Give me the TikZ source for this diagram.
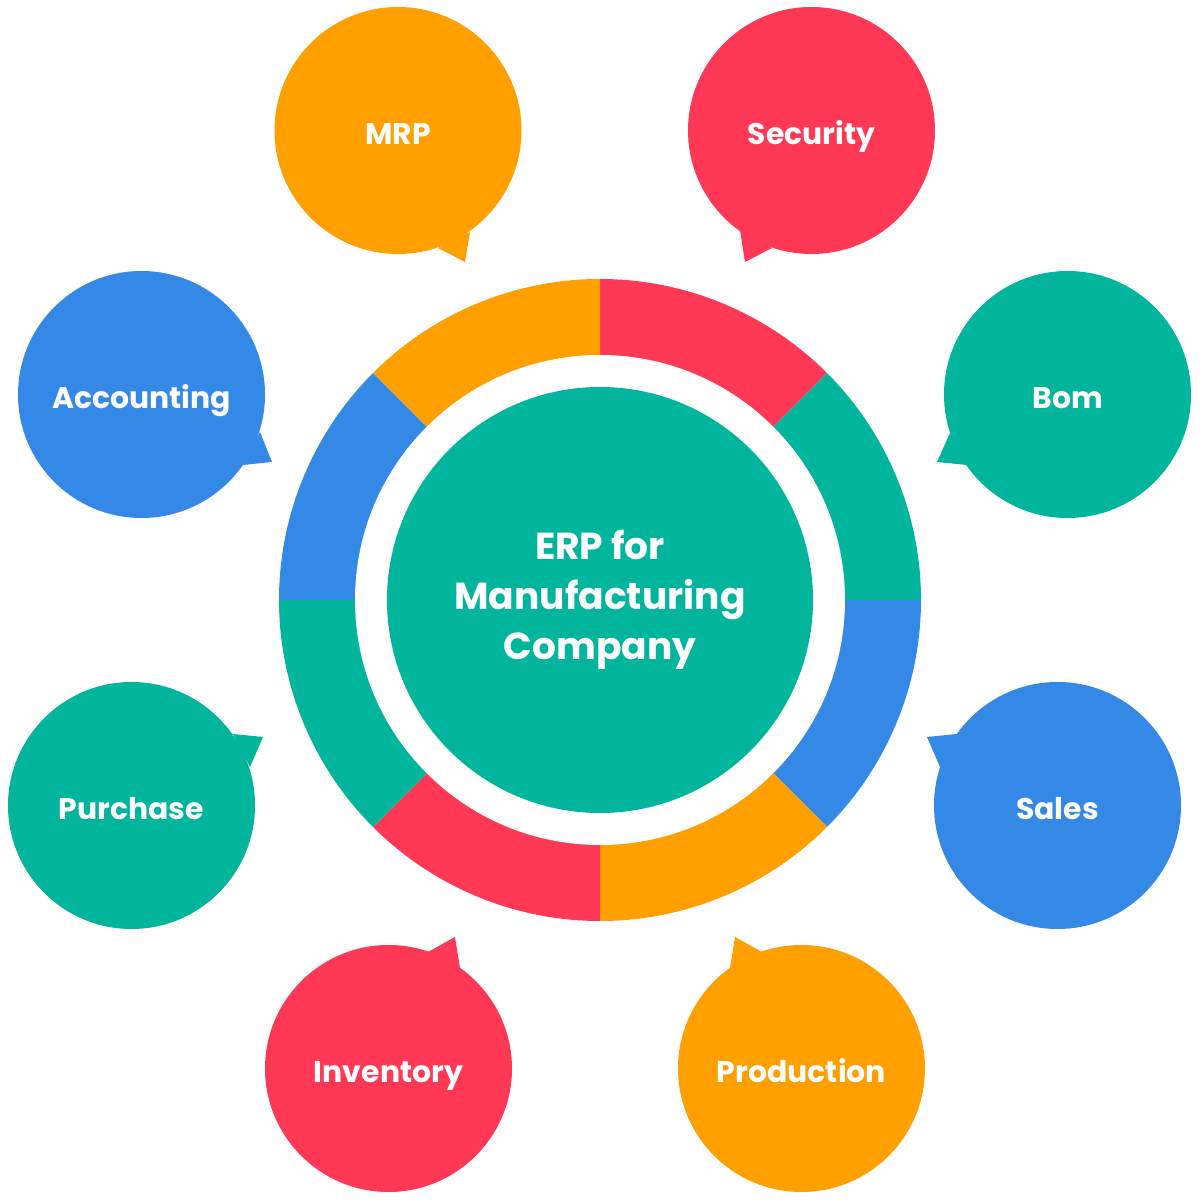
\documentclass[tikz,border=0pt]{standalone}
\usepackage{fontspec}
\setmainfont{Poppins}[BoldFont={* Bold}]
\definecolor{cOrange}{RGB}{255,159,0}
\definecolor{cRed}{RGB}{255,56,86}
\definecolor{cGreen}{RGB}{0,181,155}
\definecolor{cBlue}{RGB}{52,136,230}
\begin{document}
\begin{tikzpicture}[
  bubble/.style={circle, inner sep=0pt, minimum size=2.47cm, text=white,
    text height=0.8em, text depth=0pt,
    font=\fontsize{8.5}{10}\selectfont\bfseries},
  hub/.style={circle, inner sep=0pt, minimum size=4.26cm, fill=cGreen, text=white, align=center,
    font=\fontsize{10.7}{14.2}\selectfont\bfseries}
]
\useasboundingbox (0,0) rectangle (12,12);
\coordinate (c) at (6,6);
% ring segments
\foreach \a/\b/\col in {90/45/cRed, 45/0/cGreen, 0/-45/cBlue, -45/-90/cOrange,
  -90/-135/cRed, -135/-180/cGreen, 180/135/cBlue, 135/90/cOrange}{
  \fill[\col] (c) -- ++(\a:3.21) arc[start angle=\a, end angle=\b, radius=3.21] -- cycle;
}
\fill[white] (c) circle[radius=2.45];
\node[hub] (center) at (c) {ERP for\\Manufacturing\\Company};
% bubbles with tails
\fill[cOrange] (4.38,9.52) -- (4.65,9.38) -- (4.70,9.68) -- cycle;
\node[bubble, fill=cOrange] (mrp) at (3.98,10.695) {MRP};
\fill[cRed] (7.40,9.70) -- (7.45,9.38) -- (7.72,9.52) -- cycle;
\node[bubble, fill=cRed] (security) at (8.115,10.695) {Security};
\fill[cGreen] (9.50,7.67) -- (9.37,7.38) -- (9.67,7.35) -- cycle;
\node[bubble, fill=cGreen] (bom) at (10.675,8.055) {Bom};
\fill[cBlue] (9.57,4.66) -- (9.27,4.63) -- (9.40,4.33) -- cycle;
\node[bubble, fill=cBlue] (sales) at (10.575,3.945) {Sales};
\fill[cOrange] (7.30,2.32) -- (7.35,2.63) -- (7.62,2.48) -- cycle;
\node[bubble, fill=cOrange] (production) at (8.015,1.315) {Production};
\fill[cRed] (4.28,2.48) -- (4.55,2.63) -- (4.60,2.32) -- cycle;
\node[bubble, fill=cRed] (inventory) at (3.885,1.315) {Inventory};
\fill[cGreen] (2.33,4.66) -- (2.63,4.63) -- (2.50,4.33) -- cycle;
\node[bubble, fill=cGreen] (purchase) at (1.315,3.945) {Purchase};
\fill[cBlue] (2.60,7.68) -- (2.72,7.38) -- (2.43,7.35) -- cycle;
\node[bubble, fill=cBlue] (accounting) at (1.415,8.055) {Accounting};
\end{tikzpicture}
\end{document}
